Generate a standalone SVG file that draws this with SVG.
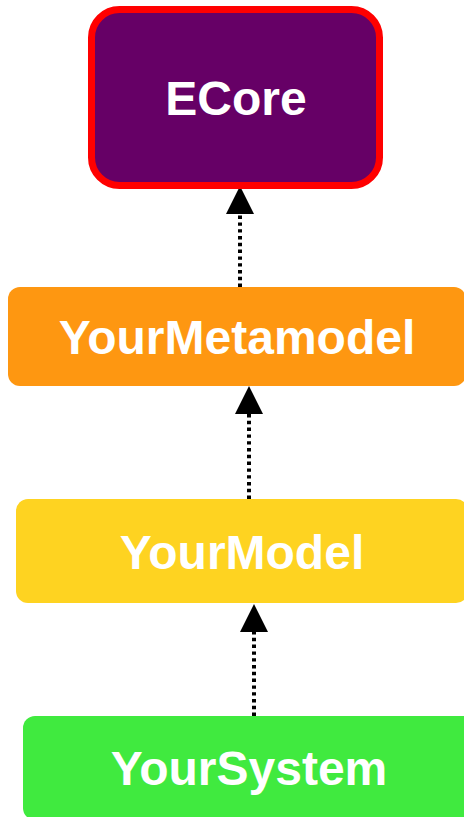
<svg xmlns="http://www.w3.org/2000/svg" width="464" height="817" viewBox="0 0 464 817">
  <defs>
    <marker id="head" viewBox="0 0 28 28" refX="0" refY="14" markerWidth="28" markerHeight="28" markerUnits="userSpaceOnUse" orient="auto">
      <path d="M0,0 L28,14 L0,28 Z" fill="#000"/>
    </marker>
  </defs>
  <style>
    .label { font-family: "Liberation Sans", Arial, sans-serif; font-weight: bold; font-size: 48px; fill: #fff; text-anchor: middle; }
    .link { stroke: #000; stroke-width: 4; stroke-dasharray: 3.4 3.4; fill: none; }
  </style>
  <rect width="464" height="817" fill="#fff"/>

  <g id="connectors">
    <path class="link" d="M240,287 L240,214" marker-end="url(#head)"/>
    <path class="link" d="M249,499 L249,414" marker-end="url(#head)"/>
    <path class="link" d="M254,716 L254,632" marker-end="url(#head)"/>
  </g>

  <g id="ecore">
    <rect x="91.5" y="9.5" width="288" height="176" rx="28" fill="#660066" stroke="#ff0000" stroke-width="7"/>
    <text class="label" x="236" y="115">ECore</text>
  </g>

  <g id="your-metamodel">
    <rect x="8" y="287" width="458" height="99" rx="12" fill="#fe9711"/>
    <text class="label" x="237" y="354">YourMetamodel</text>
  </g>

  <g id="your-model">
    <rect x="16" y="499" width="452" height="104" rx="12" fill="#fed321"/>
    <text class="label" x="242" y="569">YourModel</text>
  </g>

  <g id="your-system">
    <rect x="23" y="716" width="452" height="104" rx="12" fill="#40ea3f"/>
    <text class="label" x="249" y="785">YourSystem</text>
  </g>
</svg>
